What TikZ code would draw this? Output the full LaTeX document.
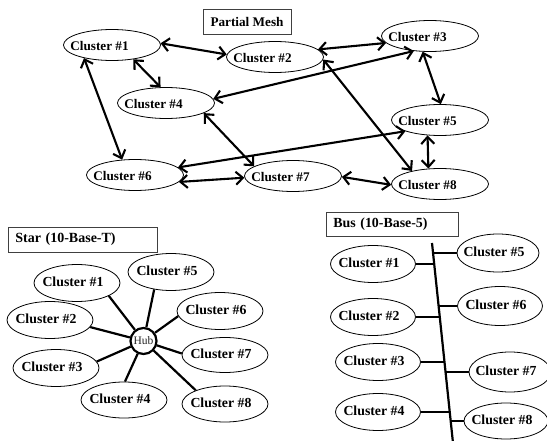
\documentclass[tikz,border=0pt]{standalone}
\usepackage{fontspec}
\setmainfont{Liberation Serif}
\usetikzlibrary{shapes.geometric,arrows.meta,calc}
\begin{document}
\begin{tikzpicture}[x=1pt,y=-1pt,
  meshn/.style={ellipse, draw, line width=0.8pt, inner sep=0pt, minimum width=97pt, minimum height=31pt},
  mtxt/.style={font=\fontsize{13.2}{15}\selectfont\bfseries, xshift=-12.5pt, yshift=-1pt, inner sep=0pt},
  starn/.style={ellipse, draw, line width=0.8pt, inner sep=0pt, minimum width=86pt, minimum height=37pt},
  busn/.style={ellipse, draw, line width=0.8pt, inner sep=0pt, minimum width=85pt, minimum height=37pt},
  stxt/.style={font=\fontsize{13.8}{16}\selectfont\bfseries, xshift=-4pt, yshift=1pt, inner sep=0pt},
  tbox/.style={draw=black!75, line width=0.7pt, inner sep=0pt, font=\fontsize{13.6}{16}\selectfont\bfseries},
  arr/.style={{Straight Barb[length=7pt,width=13pt]}-{Straight Barb[length=7pt,width=13pt]}, line width=2.1pt},
  link/.style={line width=2.2pt}
]
\useasboundingbox (0,0) rectangle (547,441);

% ---------- Partial mesh ----------
\node[tbox, minimum width=88pt, minimum height=25pt, font=\fontsize{13.2}{15}\selectfont\bfseries] (tmesh) at (247,21.5) {Partial Mesh};
\node[meshn, label={[mtxt]center:{Cluster \#1}}] (m1) at (112,45) {};
\node[meshn, label={[mtxt]center:{Cluster \#2}}] (m2) at (275,57) {};
\node[meshn, label={[mtxt]center:{Cluster \#3}}] (m3) at (430,36) {};
\node[meshn, label={[mtxt]center:{Cluster \#4}}] (m4) at (166,103) {};
\node[meshn, label={[mtxt]center:{Cluster \#5}}] (m5) at (440,120) {};
\node[meshn, label={[mtxt]center:{Cluster \#6}}] (m6) at (135,175) {};
\node[meshn, label={[mtxt]center:{Cluster \#7}}] (m7) at (293,176) {};
\node[meshn, label={[mtxt]center:{Cluster \#8}}] (m8) at (440,184) {};

\draw[arr] (m1.2) -- (m2.177);
\draw[arr] (m2.10) -- (m3.189);
\draw[arr] (m1.326) -- (m4.109);
\draw[arr] (m1.205) -- (m6.130);
\draw[arr] (m3.223) -- (m4.5);
\draw[arr] (m3.245) -- (m5.87);
\draw[arr] (m2.357) -- (m8.155);
\draw[arr] (m4.345) -- (m7.166);
\draw[arr] (m5.198) -- (m6.10);
\draw[arr] (m5.231) -- (m8.127);
\draw[arr] (m6.351) -- (m7.182);
\draw[arr] (m7.359) -- (m8.181);

% ---------- Star ----------
\node[tbox, minimum width=149pt, minimum height=25pt, anchor=west, text width=135pt, align=left, inner xsep=7pt, font=\fontsize{14}{16}\selectfont\bfseries] (tstar) at (8,239.5) {Star (10-Base-T)};
\node[circle, draw, line width=2.2pt, minimum size=26pt, inner sep=0pt, font=\fontsize{11.5}{13}\selectfont, text=black!85] (hub) at (143.5,341) {Hub};
\node[starn, label={[stxt]center:{Cluster \#1}}] (s1) at (77,283) {};
\node[starn, label={[stxt]center:{Cluster \#5}}] (s5) at (171,272) {};
\node[starn, label={[stxt]center:{Cluster \#2}}] (s2) at (50,320) {};
\node[starn, label={[stxt]center:{Cluster \#6}}] (s6) at (220,311) {};
\node[starn, label={[stxt]center:{Cluster \#3}}] (s3) at (56,368) {};
\node[starn, minimum height=35pt, label={[stxt]center:{Cluster \#7}}] (s7) at (225,355) {};
\node[starn, minimum height=36pt, label={[stxt]center:{Cluster \#4}}] (s4) at (124,400) {};
\node[starn, minimum height=36pt, label={[stxt]center:{Cluster \#8}}] (s8) at (225,404) {};

\draw[link] (hub) -- (s1.-22);
\draw[link] (hub) -- (s5.226);
\draw[link] (hub) -- (s6.187);
\draw[link] (hub) -- (s2.-10);
\draw[link] (hub) -- (s7.178);
\draw[link] (hub) -- (s3.9);
\draw[link] (hub) -- (s4.87);
\draw[link] (hub) -- (s8.155);

% ---------- Bus ----------
\node[tbox, minimum width=132pt, minimum height=24pt, anchor=west, text width=118pt, align=left, inner xsep=7pt, font=\fontsize{13.9}{16}\selectfont\bfseries] (tbus) at (326,224) {Bus (10-Base-5)};
\coordinate (bt) at (432,243);
\coordinate (bb) at (453,443);
\draw[link] (bt) -- (bb);
\node[busn, label={[stxt]center:{Cluster \#1}}] (b1) at (373,264) {};
\node[busn, label={[stxt]center:{Cluster \#2}}] (b2) at (373,317) {};
\node[busn, label={[stxt]center:{Cluster \#3}}] (b3) at (378,362) {};
\node[busn, label={[stxt]center:{Cluster \#4}}] (b4) at (378,412) {};
\node[busn, minimum width=82pt, minimum height=38pt, label={[stxt]center:{Cluster \#5}}] (b5) at (498,253) {};
\node[busn, minimum height=39pt, label={[stxt]center:{Cluster \#6}}] (b6) at (500,306) {};
\node[busn, minimum width=82pt, minimum height=40pt, label={[stxt]center:{Cluster \#7}}] (b7) at (510,372) {};
\node[busn, minimum width=84pt, minimum height=36pt, label={[stxt]center:{Cluster \#8}}] (b8) at (506,421) {};

\coordinate (p5) at ($(bt)!0.05!(bb)$);
\coordinate (p1) at ($(bt)!0.105!(bb)$);
\coordinate (p6) at ($(bt)!0.315!(bb)$);
\coordinate (p2) at ($(bt)!0.37!(bb)$);
\coordinate (p3) at ($(bt)!0.595!(bb)$);
\coordinate (p7) at ($(bt)!0.645!(bb)$);
\coordinate (p4) at ($(bt)!0.845!(bb)$);
\coordinate (p8) at ($(bt)!0.89!(bb)$);
\draw[link] (p1) -- (p1 -| b1.east);
\draw[link] (p2) -- (p2 -| b2.east);
\draw[link] (p3) -- (p3 -| b3.east);
\draw[link] (p4) -- (p4 -| b4.east);
\draw[link] (p5) -- (p5 -| b5.west);
\draw[link] (p6) -- (p6 -| b6.west);
\draw[link] (p7) -- (p7 -| b7.west);
\draw[link] (p8) -- (p8 -| b8.west);
\end{tikzpicture}
\end{document}
